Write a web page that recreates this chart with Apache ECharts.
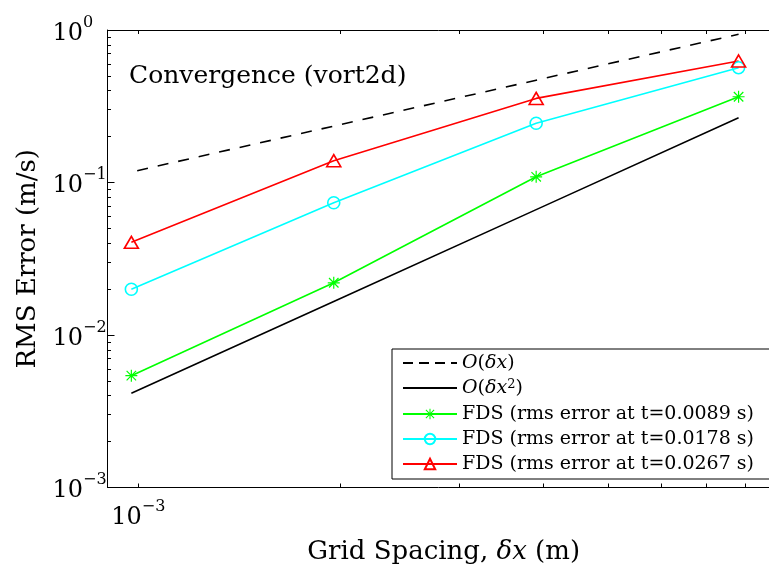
<!DOCTYPE html>
<html>
<head>
<meta charset="utf-8">
<script src="https://cdn.jsdelivr.net/npm/echarts@6/dist/echarts.min.js"></script>
<style>
html, body { margin: 0; padding: 0; background: #fff; }
#chart { width: 769px; height: 564px; }
</style>
</head>
<body>
<div id="chart"></div>
<script>
// 数据
var gridSpacing = [0.0009766, 0.0019531, 0.0039063, 0.0078125];
var orderOne = [0.1172, 0.2344, 0.4688, 0.9375];
var orderTwo = [0.00415, 0.0166, 0.0664, 0.2656];
var errT1 = [0.00541, 0.0220, 0.109, 0.365];
var errT2 = [0.01995, 0.0737, 0.2445, 0.566];
var errT3 = [0.0405, 0.139, 0.356, 0.626];
var seriesNames = ['O(dx)', 'O(dx2)', 'FDS (rms error at t=0.0089 s)', 'FDS (rms error at t=0.0178 s)', 'FDS (rms error at t=0.0267 s)'];
var xMajorTicks = [0.001];
var xMinorTicks = [0.002, 0.003, 0.004, 0.005, 0.006, 0.007, 0.008];
var yMajorTicks = [0.001, 0.01, 0.1, 1];
var yMinorTicks = [];
[0.001, 0.01, 0.1].forEach(function (d) {
    for (var k = 2; k <= 9; k++) yMinorTicks.push(+(d * k).toPrecision(3));
});

var font = 'DejaVu Serif';
var star = 'path://M9 0H11V20H9Z M0 9H20V11H0Z M1.4 2.8L2.8 1.4L18.6 17.2L17.2 18.6Z M17.2 1.4L18.6 2.8L2.8 18.6L1.4 17.2Z';

function pairs(ys) {
    return ys.map(function (y, i) { return [gridSpacing[i], y]; });
}
function expLabel(v) {
    var e = Math.round(Math.log10(v));
    return '{b|10}{s|' + String(e).replace('-', '\u2212') + '}';
}
var tickRich = {
    b: { fontFamily: font, fontSize: 24, lineHeight: 31, verticalAlign: 'bottom', color: '#000' },
    s: { fontFamily: font, fontSize: 16, lineHeight: 15, verticalAlign: 'top', color: '#000' }
};
var legendText = {
    'O(dx)': '{o|O}({i|δx})',
    'O(dx2)': '{o|O}({i|δx}{s|2})'
};
var noMark = { color: 'rgba(0,0,0,0)', borderWidth: 0 };

var myChart = echarts.init(document.getElementById('chart'));
var gridBox = { left: 107.5, top: 30, width: 672.4, height: 457.5, outerBoundsMode: 'none', containLabel: false };
var option = {
    animation: false,
    backgroundColor: '#fff',
    title: {
        text: 'Convergence (vort2d)',
        left: 129, top: 64, padding: 0,
        textStyle: { fontFamily: font, fontSize: 25, fontWeight: 'normal', color: '#000' }
    },
    grid: [
        Object.assign({}, gridBox),
        Object.assign({}, gridBox)
    ],
    legend: {
        orient: 'vertical',
        left: 392, top: 349,
        padding: [4, 30, 5, 10],
        itemWidth: 54, itemHeight: 13, itemGap: 5,
        borderColor: '#000', borderWidth: 1,
        backgroundColor: '#fff',
        selectedMode: false,
        data: [
            { name: seriesNames[0], itemStyle: noMark, lineStyle: { type: [10, 6], dashOffset: 0 } },
            { name: seriesNames[1], itemStyle: noMark },
            seriesNames[2], seriesNames[3], seriesNames[4]
        ],
        formatter: function (name) { return legendText[name] || name; },
        textStyle: {
            fontFamily: font, fontSize: 19, lineHeight: 20, color: '#000',
            rich: {
                o: { fontFamily: font, fontStyle: 'italic', fontSize: 19, lineHeight: 20 },
                i: { fontFamily: font, fontStyle: 'italic', fontSize: 19, lineHeight: 20 },
                s: { fontFamily: font, fontSize: 13, lineHeight: 20, verticalAlign: 'top', padding: [0, 0, 8, 0] }
            }
        }
    },
    xAxis: [{
        type: 'log', gridIndex: 0, position: 'bottom',
        min: 0.0009, max: 0.009,
        name: 'Grid Spacing, {i|δx} (m)',
        nameLocation: 'middle', nameGap: 52,
        nameTextStyle: {
            fontFamily: font, fontSize: 26, color: '#000',
            rich: { i: { fontFamily: font, fontStyle: 'italic', fontSize: 26 } }
        },
        axisLine: { lineStyle: { color: '#000', width: 1 } },
        axisTick: { inside: true, length: 4, lineStyle: { color: '#000' }, customValues: xMajorTicks.concat(xMinorTicks) },
        axisLabel: { customValues: xMajorTicks, margin: 11, formatter: expLabel, rich: tickRich },
        splitLine: { show: false }
    }, {
        type: 'log', gridIndex: 0, position: 'top',
        min: 0.0009, max: 0.009,
        axisLine: { lineStyle: { color: '#000', width: 1 } },
        axisTick: { inside: true, length: 4, lineStyle: { color: '#000' }, customValues: xMajorTicks.concat(xMinorTicks) },
        axisLabel: { show: false },
        splitLine: { show: false }
    }, {
        type: 'log', gridIndex: 1, min: 0.0009, max: 0.009, show: false
    }],
    yAxis: [{
        type: 'log', gridIndex: 0, position: 'left',
        min: 0.001, max: 1,
        name: 'RMS Error (m/s)',
        nameLocation: 'middle', nameGap: 65,
        nameTextStyle: { fontFamily: font, fontSize: 26, color: '#000' },
        axisLine: { lineStyle: { color: '#000', width: 1 } },
        axisTick: { inside: true, length: 7, lineStyle: { color: '#000' }, customValues: yMajorTicks },
        axisLabel: { customValues: yMajorTicks, align: 'left', margin: 55, formatter: expLabel, rich: tickRich },
        splitLine: { show: false }
    }, {
        type: 'log', gridIndex: 1, position: 'left',
        min: 0.001, max: 1,
        axisLine: { show: false },
        axisTick: { inside: true, length: 3.5, lineStyle: { color: '#000' }, customValues: yMinorTicks },
        axisLabel: { show: false },
        splitLine: { show: false }
    }],
    series: [{
        name: seriesNames[0], type: 'line', data: pairs(orderOne),
        symbol: 'none',
        lineStyle: { color: '#000', width: 1.6, type: [11, 10], dashOffset: 15 },
        itemStyle: { color: '#000' }
    }, {
        name: seriesNames[1], type: 'line', data: pairs(orderTwo),
        symbol: 'none',
        lineStyle: { color: '#000', width: 1.6 },
        itemStyle: { color: '#000' }
    }, {
        name: seriesNames[2], type: 'line', data: pairs(errT1),
        symbol: star, symbolSize: 12,
        lineStyle: { color: '#00ff00', width: 1.6 },
        itemStyle: { color: '#00ff00' }
    }, {
        name: seriesNames[3], type: 'line', data: pairs(errT2),
        symbol: 'circle', symbolSize: 12,
        lineStyle: { color: '#00ffff', width: 1.6 },
        itemStyle: { color: 'rgba(0,0,0,0)', borderColor: '#00ffff', borderWidth: 1.6 }
    }, {
        name: seriesNames[4], type: 'line', data: pairs(errT3),
        symbol: 'triangle', symbolSize: [14, 12],
        lineStyle: { color: '#ff0000', width: 1.6 },
        itemStyle: { color: 'rgba(0,0,0,0)', borderColor: '#ff0000', borderWidth: 1.6 }
    }]
};

myChart.setOption(option);
</script>
</body>
</html>
